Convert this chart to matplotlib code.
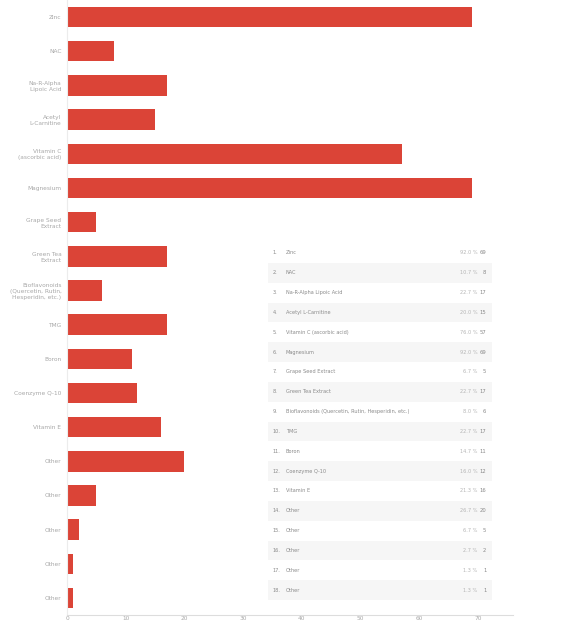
import matplotlib
matplotlib.use("Agg")
import matplotlib.pyplot as plt

categories = ["Zinc", "NAC", "Na-R-Alpha\nLipoic Acid", "Acetyl\nL-Carnitine",
              "Vitamin C\n(ascorbic acid)", "Magnesium", "Grape Seed\nExtract",
              "Green Tea\nExtract", "Bioflavonoids\n(Quercetin, Rutin,\nHesperidin, etc.)",
              "TMG", "Boron", "Coenzyme Q-10", "Vitamin E",
              "Other", "Other", "Other", "Other", "Other"]
table_labels = ["Zinc", "NAC", "Na-R-Alpha Lipoic Acid", "Acetyl L-Carnitine",
                "Vitamin C (ascorbic acid)", "Magnesium", "Grape Seed Extract",
                "Green Tea Extract", "Bioflavonoids (Quercetin, Rutin, Hesperidin, etc.)",
                "TMG", "Boron", "Coenzyme Q-10", "Vitamin E",
                "Other", "Other", "Other", "Other", "Other"]
counts = [69, 8, 17, 15, 57, 69, 5, 17, 6, 17, 11, 12, 16, 20, 5, 2, 1, 1]
respondents = 75
xticks = [0, 10, 20, 30, 40, 50, 60, 70]

RED = "#db4437"
GRAY = "#a8a8a8"

fig = plt.figure(figsize=(5.77, 6.23), dpi=100)
ax = fig.add_axes([67/577, 8/623, (513-67)/577, 615/623])
ypos = list(range(len(counts)))
ax.barh(ypos, counts, height=0.6, color=RED)
ax.set_ylim(len(counts) - 0.5, -0.5)
ax.set_xlim(0, 76)
ax.set_yticks(ypos)
ax.set_yticklabels(categories, fontsize=4.2, color=GRAY, linespacing=1.3)
ax.set_xticks(xticks)
ax.set_xticklabels([str(t) for t in xticks], fontsize=4.2, color=GRAY)
ax.tick_params(axis="y", length=0, pad=4)
ax.tick_params(axis="x", length=0, pad=1)
for s in ["top", "right"]:
    ax.spines[s].set_visible(False)
ax.spines["left"].set_color("#ececec")
ax.spines["bottom"].set_color("#dddddd")
ax.spines["left"].set_linewidth(0.8)
ax.spines["bottom"].set_linewidth(0.8)

# summary table
tx = fig.add_axes([268/577, (623-600)/623, (492-268)/577, (600-243)/623])
n = len(counts)
tx.set_xlim(0, 1)
tx.set_ylim(n, 0)
tx.axis("off")
for i in range(n):
    if i % 2 == 1:
        tx.axhspan(i, i + 1, color="#f6f6f6", lw=0)
    tx.text(0.02, i + 0.5, f"{i+1}.", fontsize=3.6, color="#8a8a8a", va="center", ha="left")
    tx.text(0.08, i + 0.5, table_labels[i], fontsize=3.6, color="#8a8a8a", va="center", ha="left")
    pct = counts[i] / respondents * 100
    tx.text(0.935, i + 0.5, f"{pct:.1f} %", fontsize=3.6, color="#b5b5b5", va="center", ha="right")
    tx.text(0.975, i + 0.5, f"{counts[i]}", fontsize=3.8, color="#8a8a8a", va="center", ha="right")

fig.savefig("out.png", dpi=100)
